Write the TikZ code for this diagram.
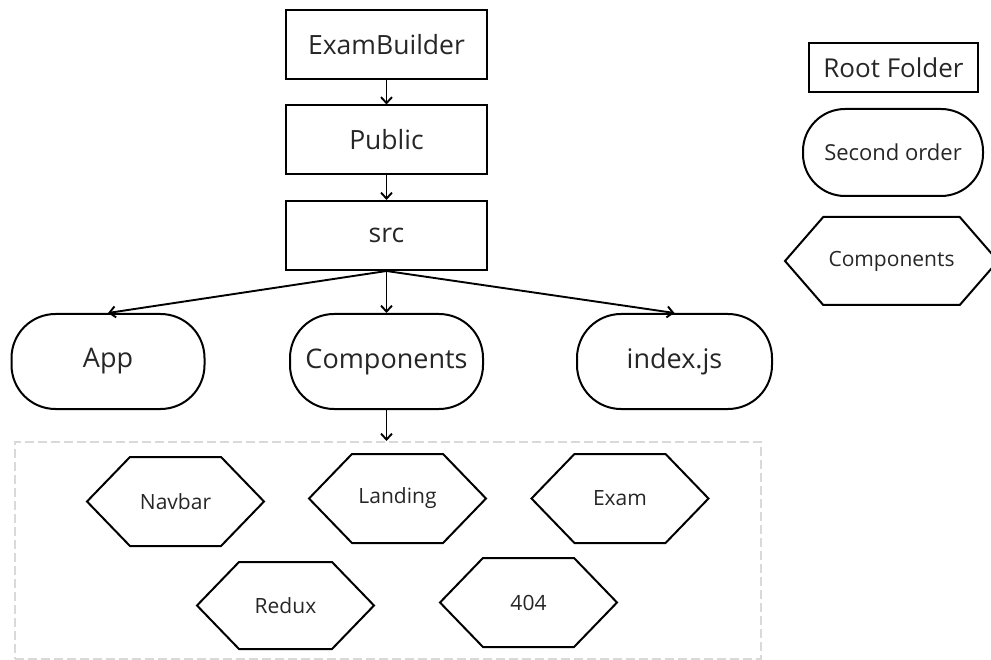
\documentclass[tikz,border=0pt]{standalone}
\usepackage{fontspec}
\setmainfont{Open Sans}
\usetikzlibrary{arrows.meta,shapes.symbols}
\begin{document}
\begin{tikzpicture}[x=1pt,y=-1pt,
  line width=2pt,
  txt/.style={text=black!85, inner sep=0pt},
  folder/.style={txt,draw,rectangle,minimum width=201pt,minimum height=69pt,font=\fontsize{26.5}{31}\selectfont},
  second/.style={txt,draw,rectangle,rounded corners=44pt,minimum width=193pt,minimum height=95pt,font=\fontsize{27}{32}\selectfont},
  comp/.style={txt,draw,signal,signal to=east and west,signal pointer angle=92,minimum width=177pt,minimum height=89pt,font=\fontsize{21}{25}\selectfont},
  link/.style={-{Straight Barb[length=6pt,width=11pt]}, line width=1.9pt},
]
\useasboundingbox (0,0) rectangle (991,660);

% main column
\node[folder] (exam) at (386.5,45) {ExamBuilder};
\node[folder] (public) at (386.5,140) {Public};
\node[folder] (src) at (386.5,235.5) {src};

\node[second] (app) at (108,361.5) {App};
\node[second] (comps) at (386.5,361.5) {Components};
\node[second, minimum width=195pt] (index) at (674.5,361.5) {index.js};

% components group
\node[draw=black!15, dash pattern=on 9pt off 4pt, minimum width=746pt, minimum height=217pt, inner sep=0pt] (group) at (388,550.5) {};

\node[comp] (navbar) at (175.5,501.5) {Navbar};
\node[comp] (landing) at (397.5,498.5) {Landing};
\node[comp] (examc) at (620,498.5) {Exam};
\node[comp, minimum height=87pt] (redux) at (285.5,605.5) {Redux};
\node[comp, minimum height=89pt] (nf) at (528.5,602.5) {404};

% legend
\node[folder, minimum width=169pt, minimum height=49pt, font=\fontsize{26}{30}\selectfont] (lroot) at (893.5,67.5) {Root Folder};
\node[second, minimum width=180pt, minimum height=87pt, rounded corners=42pt, font=\fontsize{22}{26}\selectfont] (lsecond) at (893,152.5) {Second order};
\node[comp, minimum width=213pt, minimum height=88pt, signal pointer angle=98, font=\fontsize{21}{25}\selectfont] (lcomp) at (891.5,261) {Components};

% connectors
\draw[link] (exam.south) -- (public.north);
\draw[link] (public.south) -- (src.north);
\draw[link] (src.south) -- (app.north);
\draw[link] (src.south) -- (comps.north);
\draw[link] (src.south) -- (index.north);
\draw[link] (comps.south) -- (comps.south |- group.north);
\end{tikzpicture}
\end{document}
